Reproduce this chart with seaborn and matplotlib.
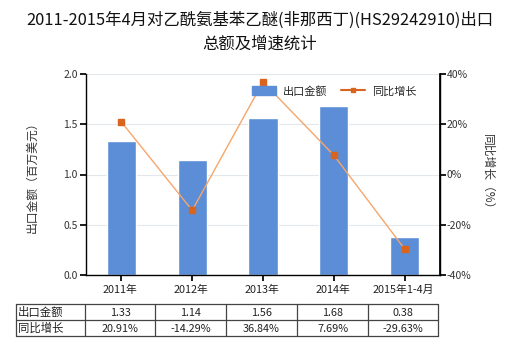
import matplotlib
matplotlib.use("Agg")
import matplotlib.pyplot as plt
import seaborn as sns
import pandas as pd
import numpy as np
from matplotlib.lines import Line2D

sns.set_theme(style="white")
plt.rcParams['font.family'] = ['Noto Sans CJK SC', 'DejaVu Sans']

categories = ["2011年", "2012年", "2013年", "2014年", "2015年1-4月"]
export_values = [1.33, 1.14, 1.56, 1.68, 0.38]
growth_values = [20.91, -14.29, 36.84, 7.69, -29.63]
export_labels = ["1.33", "1.14", "1.56", "1.68", "0.38"]
growth_labels = ["20.91%", "-14.29%", "36.84%", "7.69%", "-29.63%"]
title = "2011-2015年4月对乙酰氨基苯乙醚(非那西丁)(HS29242910)出口\n总额及增速统计"

W, H = 520, 350
fig = plt.figure(figsize=(5.2, 3.5), dpi=100)
ax = fig.add_axes([86 / W, 1 - 275 / H, (440 - 86) / W, (275 - 74) / H])

df = pd.DataFrame({"cat": categories, "val": export_values, "g": growth_values})
bar_color = "#5b8ed6"
sns.barplot(data=df, x="cat", y="val", color=bar_color, width=0.41, ax=ax, saturation=1)
ax.set_ylim(0, 2.0)
ax.set_yticks([0, 0.5, 1.0, 1.5, 2.0])
ax.set_yticklabels(["0.0", "0.5", "1.0", "1.5", "2.0"], fontsize=7.5, color="#333333")
ax.set_xticks(range(len(categories)))
ax.set_xticklabels([])
ax.tick_params(axis="x", length=4, color="black", direction="out", bottom=True)
ax.tick_params(axis="y", length=4, color="black", direction="out", left=True, pad=2)
ax.set_xlabel("")
ax.set_ylabel("出口金额（百万美元）", fontsize=8.5, color="#333333", labelpad=18)
ax.yaxis.grid(True, color="#e3e8ec", linewidth=0.8)
ax.set_axisbelow(True)
for s in ["top"]:
    ax.spines[s].set_visible(False)
for s in ["left", "bottom", "right"]:
    ax.spines[s].set_color("black")
    ax.spines[s].set_linewidth(1.0)

ax2 = ax.twinx()
ax2.plot(range(len(categories)), growth_values, color="#f5a66b", linewidth=1.0, zorder=3)
ax2.plot(range(len(categories)), growth_values, linestyle="none", marker="s", markersize=4.5,
         color="#d9641e", zorder=4)
ax2.set_ylim(-40, 40)
ax2.set_yticks([-40, -20, 0, 20, 40])
ax2.set_yticklabels(["-40%", "-20%", "0%", "20%", "40%"], fontsize=7.5, color="#333333")
ax2.tick_params(axis="y", length=4, color="black", direction="out", right=True, pad=1)
ax2.set_ylabel("同比增长（%）", fontsize=8.5, color="#333333", rotation=270, labelpad=16)
for s in ["top", "left", "bottom"]:
    ax2.spines[s].set_visible(False)
ax2.spines["right"].set_color("black")
ax2.grid(False)
ax.set_xlim(-0.5, len(categories) - 0.5)

# legend
handles = [
    plt.Rectangle((0, 0), 1, 1, color=bar_color),
    Line2D([0], [0], color="#d9641e", linewidth=1.5, marker="s", markersize=3.5),
]
fig.legend(handles, ["出口金额", "同比增长"], loc="center", bbox_to_anchor=(334 / W, 1 - 91 / H),
           ncol=2, frameon=False, fontsize=8, handlelength=2.2, handleheight=0.9,
           columnspacing=1.2, handletextpad=0.6)

fig.text(0.5, 1 - 12 / H, title, ha="center", va="top", fontsize=11.8,
         linespacing=1.5, color="#111111")

# table
col_x = [16, 85, 155, 226, 297, 368, 438]
row_y = [304, 320, 336]
lc = "#444444"
for y in row_y:
    fig.add_artist(Line2D([col_x[0] / W, col_x[-1] / W], [1 - y / H, 1 - y / H],
                          color=lc, linewidth=0.9, transform=fig.transFigure))
for x in col_x:
    fig.add_artist(Line2D([x / W, x / W], [1 - row_y[0] / H, 1 - row_y[-1] / H],
                          color=lc, linewidth=0.9, transform=fig.transFigure))
for i, c in enumerate(categories):
    cx = (col_x[i + 1] + col_x[i + 2]) / 2
    fig.text(cx / W, 1 - 290 / H, c, ha="center", va="center", fontsize=7.8, color="#222222")
    fig.text(cx / W, 1 - 313 / H, export_labels[i], ha="center", va="center", fontsize=7.8, color="#222222")
    fig.text(cx / W, 1 - 329 / H, growth_labels[i], ha="center", va="center", fontsize=7.8, color="#222222")
fig.text(18 / W, 1 - 312 / H, "出口金额", ha="left", va="center", fontsize=8.2, color="#222222")
fig.text(18 / W, 1 - 328 / H, "同比增长", ha="left", va="center", fontsize=8.2, color="#222222")

fig.savefig("out.png", dpi=100, facecolor="white")
